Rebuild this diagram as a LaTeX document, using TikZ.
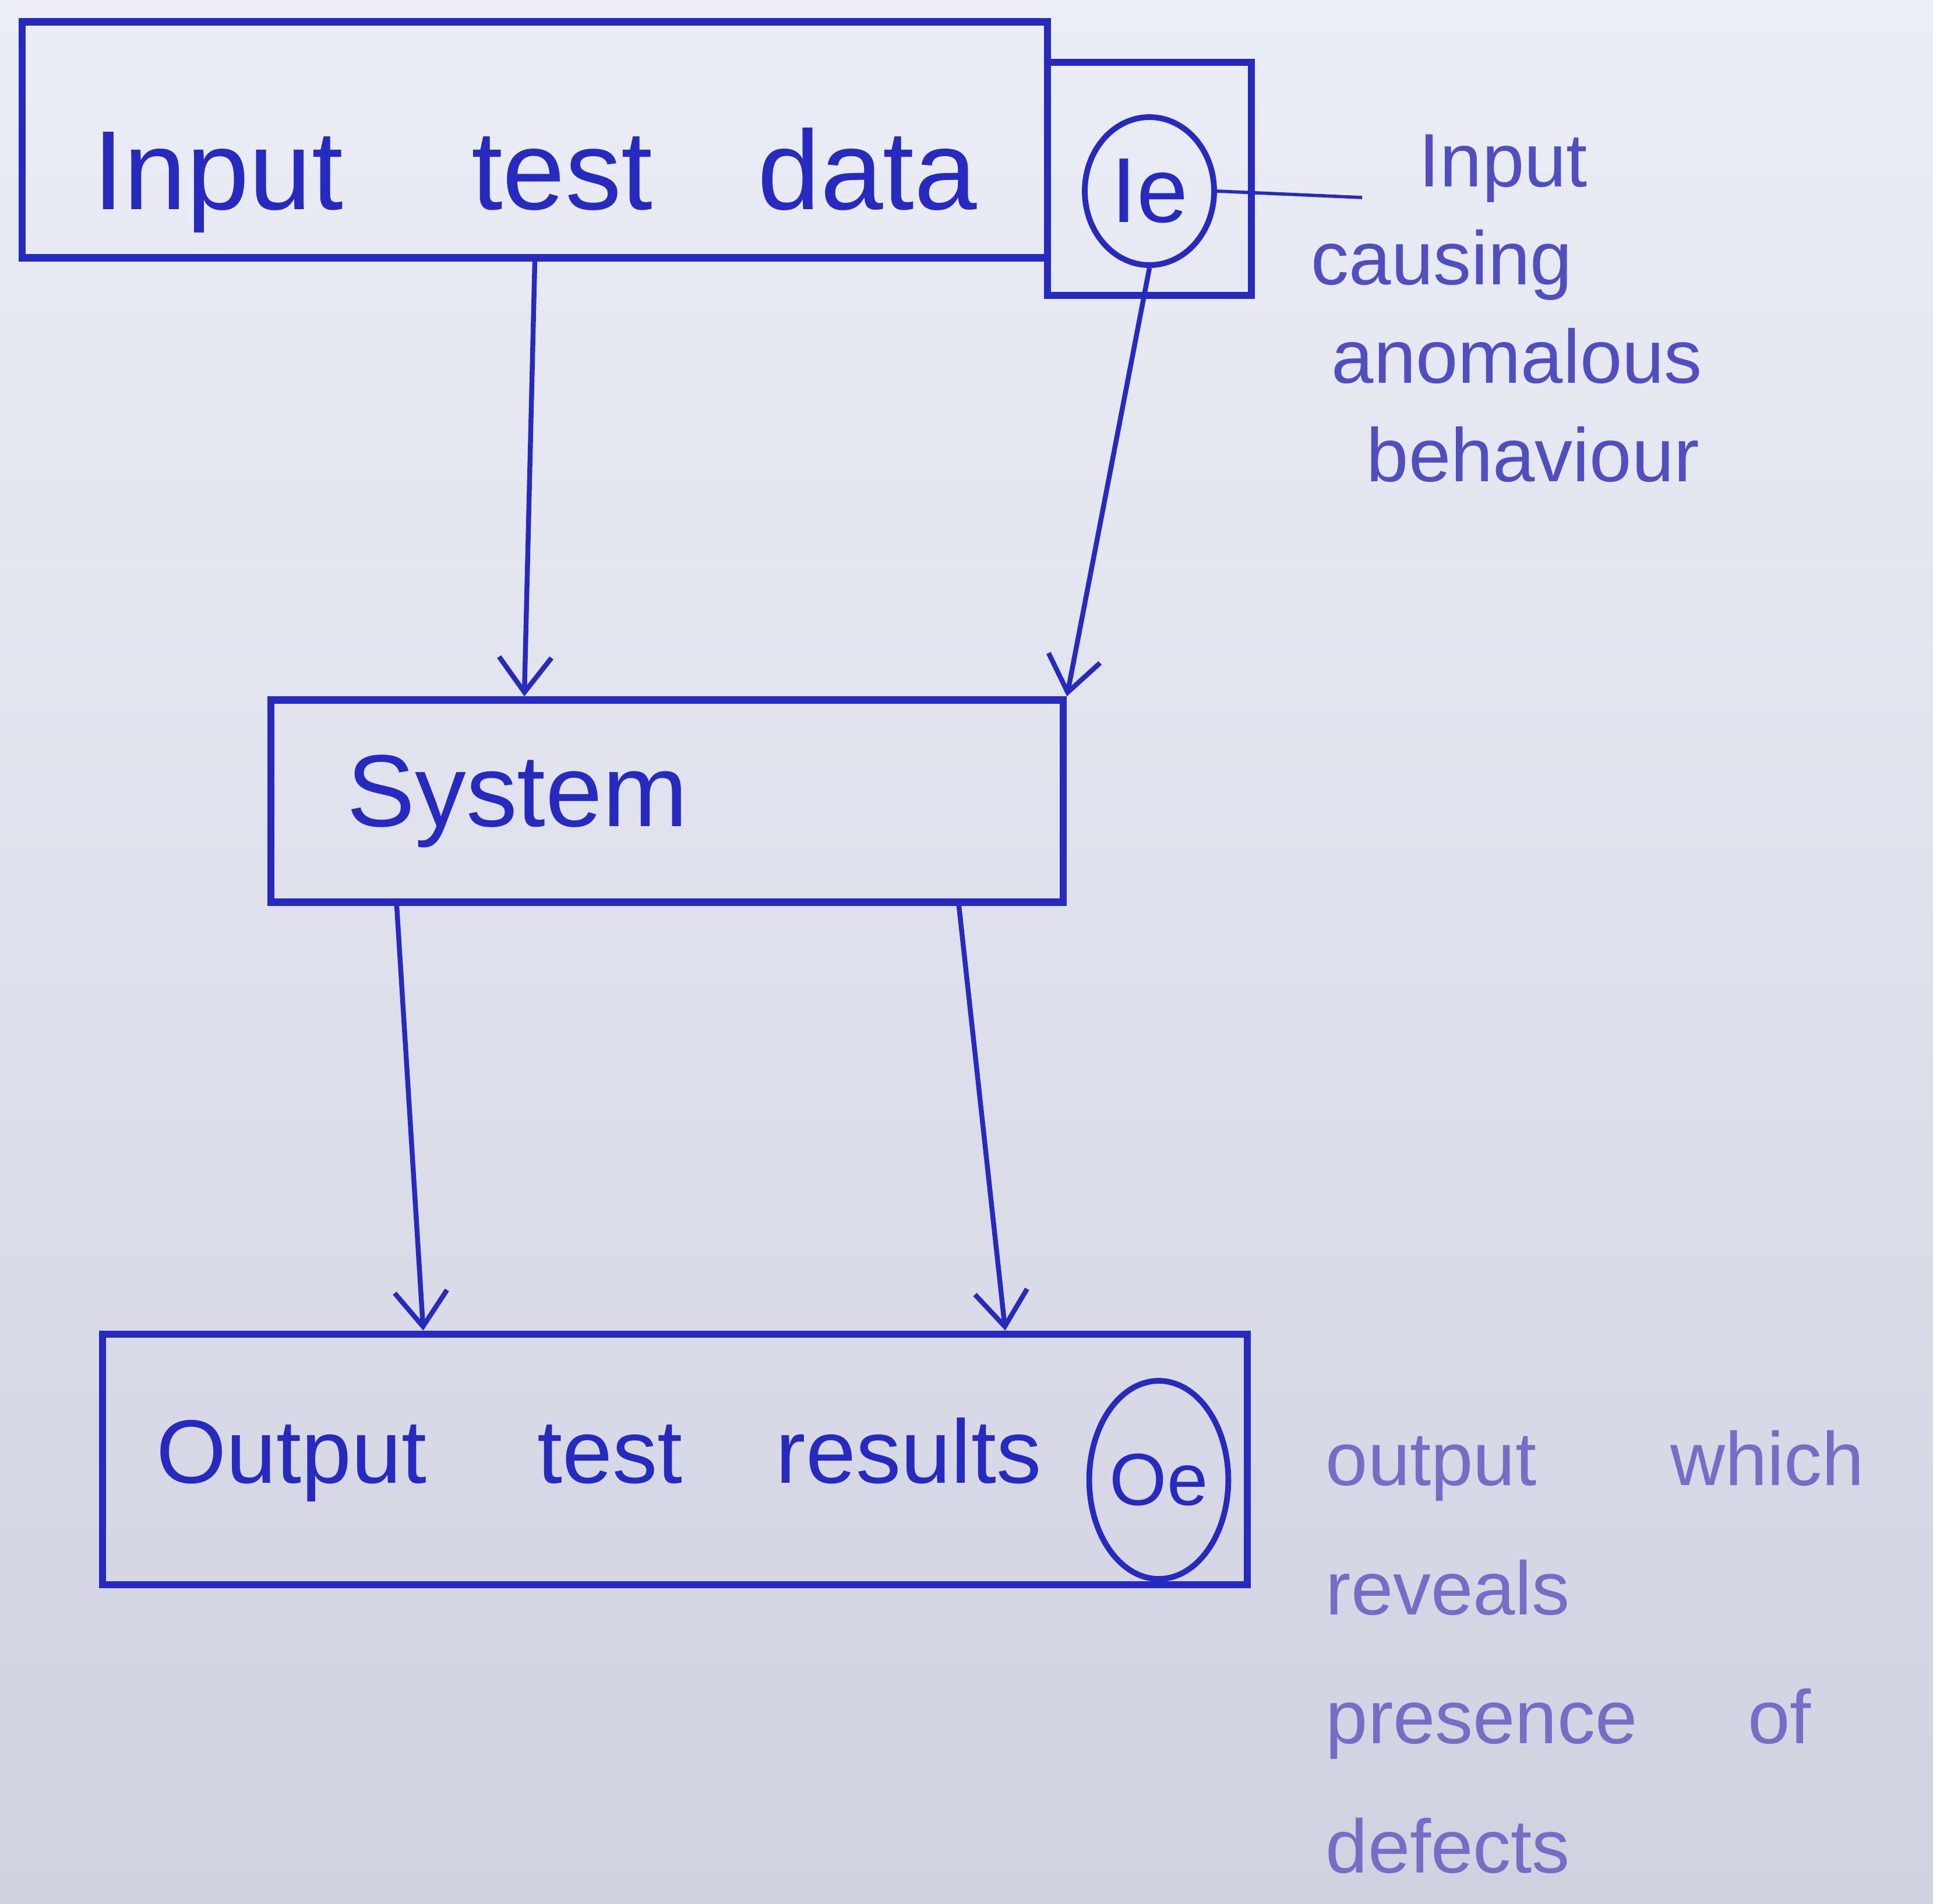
\documentclass[tikz,border=0pt]{standalone}
\usepackage{fontspec}
\setmainfont{Liberation Sans}
\usetikzlibrary{arrows.meta,shapes.geometric,calc}
\definecolor{ink}{RGB}{38,42,192}
\definecolor{faintink}{RGB}{80,78,192}
\definecolor{paleink}{RGB}{118,110,198}
\definecolor{papertop}{RGB}{236,238,246}
\definecolor{paperbot}{RGB}{208,210,224}
\newcommand{\bigink}{\fontsize{55}{60}\selectfont}
\newcommand{\sysink}{\fontsize{50}{56}\selectfont}
\newcommand{\outink}{\fontsize{44}{50}\selectfont}
\newcommand{\midink}{\fontsize{45}{50}\selectfont}
\newcommand{\smallink}{\fontsize{36}{40}\selectfont}
\newcommand{\noteink}{\fontsize{37}{48}\selectfont}
\newcommand{\notelow}{\fontsize{37}{63}\selectfont}

\begin{document}
\begin{tikzpicture}[
  box/.style={draw=ink, text=ink, line width=3.6pt, rectangle},
  blob/.style={draw=ink, text=ink, line width=2.8pt, ellipse, inner sep=0pt},
  flow/.style={draw=ink, line width=2.4pt, -{Straight Barb[length=6mm,width=9mm]}},
  note/.style={align=left, inner sep=0pt, anchor=north west}
  ]
  \shade[top color=papertop, bottom color=paperbot] (0,0) rectangle (33.18,-32.67);% paper
  \useasboundingbox (0,0) rectangle (33.18,-32.67);

  \node[box, minimum width=17.6cm, minimum height=4.05cm, text height=2.8cm, font=\bigink] (input) at (9.18,-2.4) {Input\hspace{2.2cm}test\hspace{1.8cm}data};
  \node[box, minimum width=3.5cm, minimum height=4.0cm] (iebox) at (19.73,-3.07) {};
  \node[blob, minimum width=2.22cm, minimum height=2.54cm, font=\midink] (ie) at (19.73,-3.28) {Ie};
  \coordinate (ietip) at (23.38,-3.39);
  \draw[ink, line width=1.6pt] (ie.east) -- (ietip);% pointer to the note
  \node[note, text=faintink, font=\noteink] (ienote) at (22.5,-2.3) {\hspace*{1.85cm}Input\\causing\\\hspace*{0.35cm}anomalous\\\hspace*{0.95cm}behaviour};

  \node[box, minimum width=13.6cm, minimum height=3.47cm, text width=11cm, align=left, font=\sysink] (system) at (11.45,-13.75) {System};

  \node[box, minimum width=19.65cm, minimum height=4.3cm, text width=17.8cm, align=left, font=\outink] (output) at (11.585,-25.05) {Output\hspace{1.9cm}test\hspace{1.6cm}results};
  \node[blob, minimum width=2.12cm, minimum height=3.4cm, font=\smallink] (oe) at (19.89,-25.4) {Oe};
  \node[note, text=paleink, font=\notelow] (oenote) at (22.75,-24.55) {output\hspace{2.3cm}which\\reveals\\presence\hspace{1.9cm}of\\defects};

  \draw[flow] (input.south) -- ([xshift=-2.45cm]system.north);
  \draw[flow] (ie.south) -- (system.north east);
  \draw[flow] ([xshift=-4.64cm]system.south) -- ([xshift=-4.32cm]output.north);
  \draw[flow] ([xshift=5.01cm]system.south) -- ([xshift=5.67cm]output.north);
\end{tikzpicture}
\end{document}
